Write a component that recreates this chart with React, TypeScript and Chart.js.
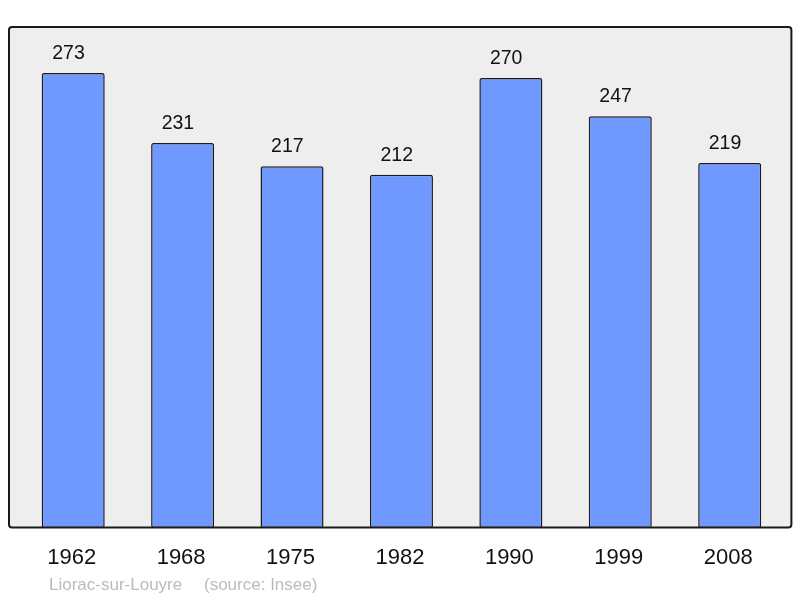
import { useEffect, useRef } from "react";
import { Chart, registerables } from "chart.js";

Chart.register(...registerables);

const years = ["1962", "1968", "1975", "1982", "1990", "1999", "2008"];
const population = [273, 231, 217, 212, 270, 247, 219];
const townName = "Liorac-sur-Louyre";
const sourceLabel = "(source: Insee)";
const yMin = 0;
const yMax = 300;

const FONT = "'Liberation Sans', Arial, sans-serif";

function roundRect(ctx: CanvasRenderingContext2D, x: number, y: number, w: number, h: number, r: number) {
  ctx.beginPath();
  ctx.moveTo(x + r, y);
  ctx.lineTo(x + w - r, y);
  ctx.quadraticCurveTo(x + w, y, x + w, y + r);
  ctx.lineTo(x + w, y + h - r);
  ctx.quadraticCurveTo(x + w, y + h, x + w - r, y + h);
  ctx.lineTo(x + r, y + h);
  ctx.quadraticCurveTo(x, y + h, x, y + h - r);
  ctx.lineTo(x, y + r);
  ctx.quadraticCurveTo(x, y, x + r, y);
  ctx.closePath();
}

const framePlugin = {
  id: "frame",
  beforeDatasetsDraw(chart: any) {
    const { ctx, chartArea } = chart;
    const x = chartArea.left - 9.5;
    const y = chartArea.top - 1;
    const w = chartArea.right + 7 - x;
    const h = chartArea.bottom - y - 0.5;
    ctx.save();
    ctx.fillStyle = "#eeeeee";
    roundRect(ctx, x, y, w, h, 3);
    ctx.fill();
    ctx.restore();
  },
  afterDatasetsDraw(chart: any) {
    const { ctx, chartArea } = chart;
    const x = chartArea.left - 9.5;
    const y = chartArea.top - 1;
    const w = chartArea.right + 7 - x;
    const h = chartArea.bottom - y - 0.5;
    ctx.save();
    ctx.strokeStyle = "#1a1a1a";
    ctx.lineWidth = 2;
    roundRect(ctx, x, y, w, h, 3);
    ctx.stroke();

    // value labels
    const meta = chart.getDatasetMeta(0);
    ctx.fillStyle = "#111111";
    ctx.font = `19.5px ${FONT}`;
    ctx.textAlign = "center";
    ctx.textBaseline = "alphabetic";
    meta.data.forEach((bar: any, i: number) => {
      const v = chart.data.datasets[0].data[i];
      ctx.fillText(String(v), bar.x - 4.7, bar.y - 14);
    });

    // footer
    ctx.fillStyle = "#bbbbbb";
    ctx.font = `17px ${FONT}`;
    ctx.textAlign = "left";
    ctx.fillText(townName, 49, 590);
    ctx.fillText(sourceLabel, 204, 590);
    ctx.restore();
  },
};

export default function App() {
  const ref = useRef<HTMLCanvasElement>(null);
  useEffect(() => {
    document.body.style.margin = "0";
    const canvas = ref.current!;
    const chart = new Chart(canvas, {
      type: "bar",
      data: {
        labels: years,
        datasets: [
          {
            data: population,
            backgroundColor: "#7099ff",
            borderColor: "#1a1a1a",
            borderWidth: 1.5,
            borderRadius: 2,
            borderSkipped: false,
            barPercentage: 0.576,
            categoryPercentage: 1,
          },
        ],
      },
      options: {
        responsive: false,
        animation: false,
        layout: { padding: { left: 18.5, right: 15.6, top: 28, bottom: 30 } },
        plugins: {
          legend: { display: false },
          tooltip: { enabled: false },
          title: { display: false },
        },
        scales: {
          x: {
            grid: { display: false, drawTicks: false },
            border: { display: false },
            afterFit: (scale: any) => {
              scale.height = 40;
            },
            ticks: {
              color: "#111111",
              font: { family: FONT, size: 22, lineHeight: 1.2 },
              padding: 16.5,
              labelOffset: -1.5,
              maxRotation: 0,
            },
          },
          y: {
            display: false,
            min: yMin,
            max: yMax,
          },
        },
      },
      plugins: [framePlugin],
    });
    return () => chart.destroy();
  }, []);
  return <canvas ref={ref} width={800} height={598} style={{ display: "block" }} />;
}
